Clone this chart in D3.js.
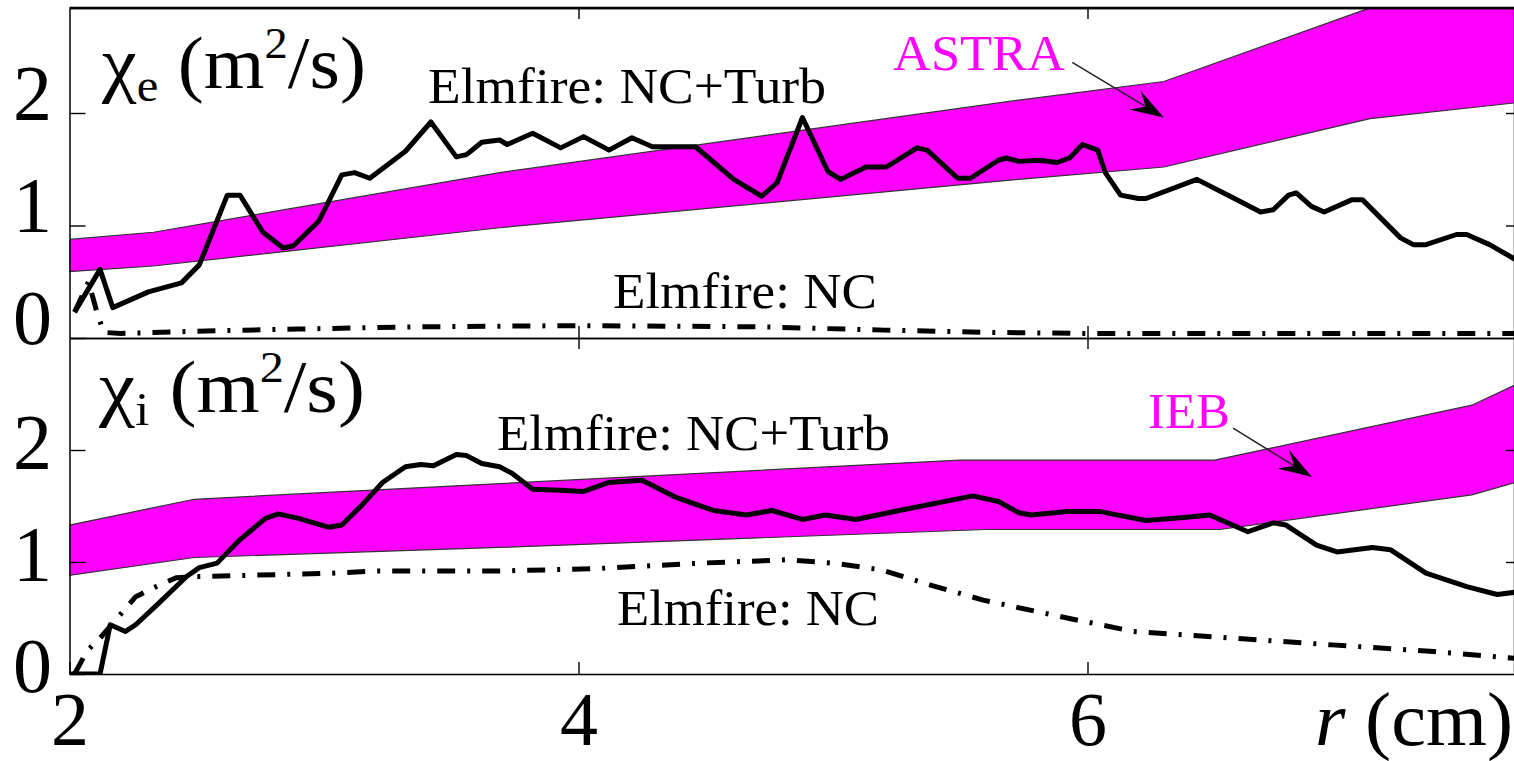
<!DOCTYPE html>
<html>
<head>
<meta charset="utf-8">
<script src="https://cdn.jsdelivr.net/npm/d3@7"></script>
<style>
  html, body { margin: 0; padding: 0; background: #fff; }
  svg { display: block; }
  text { font-family: "Liberation Serif", "Times New Roman", serif; fill: #000; }
</style>
</head>
<body>
<svg id="chart" width="1514" height="761"></svg>
<script>
'use strict';

// r (cm) axis
const xTicks = [2, 4, 6];
const yTicks = [0, 1, 2];

// electron panel: ASTRA band edges, [r, chi]
const astraUpper = [[2, 0.876], [2.33, 0.94], [3.69, 1.47], [5.73, 2.115], [6.3, 2.28], [7.08, 2.91], [7.68, 3.4]];
const astraLower = [[2, 0.59], [2.33, 0.64], [3.69, 0.98], [5.73, 1.41], [6.3, 1.52], [7.11, 1.95], [7.68, 2.09]];

const chiETurb = [
    [2.02, 0.23], [2.12, 0.61], [2.17, 0.27], [2.31, 0.41], [2.44, 0.49], [2.51, 0.65], [2.62, 1.27], [2.67, 1.27],
    [2.76, 0.94], [2.84, 0.80], [2.88, 0.82], [2.98, 1.04], [3.07, 1.45], [3.12, 1.47], [3.18, 1.42], [3.32, 1.66],
    [3.42, 1.92], [3.52, 1.61], [3.56, 1.63], [3.62, 1.74], [3.69, 1.76], [3.72, 1.72], [3.82, 1.82], [3.93, 1.69],
    [4.02, 1.79], [4.12, 1.67], [4.21, 1.78], [4.29, 1.70], [4.46, 1.70], [4.61, 1.41], [4.72, 1.26], [4.78, 1.38],
    [4.88, 1.96], [4.98, 1.48], [5.03, 1.41], [5.13, 1.52], [5.21, 1.52], [5.33, 1.69], [5.37, 1.67], [5.49, 1.42],
    [5.54, 1.42], [5.65, 1.58], [5.68, 1.60], [5.73, 1.57], [5.81, 1.58], [5.88, 1.56], [5.93, 1.60], [5.98, 1.72],
    [6.04, 1.67], [6.07, 1.47], [6.13, 1.27], [6.20, 1.24], [6.23, 1.24], [6.43, 1.41], [6.56, 1.26], [6.68, 1.12],
    [6.73, 1.14], [6.79, 1.27], [6.82, 1.29], [6.88, 1.17], [6.93, 1.12], [7.04, 1.23], [7.08, 1.23], [7.23, 0.89],
    [7.28, 0.83], [7.33, 0.83], [7.45, 0.92], [7.49, 0.92], [7.58, 0.83], [7.68, 0.70]
];
const chiENc = [
    [2.02, 0.23], [2.075, 0.5], [2.11, 0.21], [2.135, 0.05], [2.2, 0.04], [2.5, 0.06], [2.9, 0.08], [3.4, 0.10],
    [4.0, 0.11], [4.7, 0.10], [5.2, 0.07], [5.6, 0.05], [6.0, 0.04], [7.68, 0.04]
];

// ion panel: IEB band edges
const iebUpper = [[2, 1.33], [2.49, 1.56], [5.5, 1.91], [6.5, 1.91], [7.51, 2.40], [7.68, 2.58]];
const iebLower = [[2, 0.88], [2.49, 1.04], [3.69, 1.13], [5.6, 1.29], [6.52, 1.29], [7.51, 1.60], [7.68, 1.71]];

const chiITurb = [
    [2.0, 0.0], [2.12, 0.0], [2.16, 0.44], [2.22, 0.38], [2.26, 0.44], [2.35, 0.63], [2.46, 0.87], [2.51, 0.95],
    [2.58, 0.99], [2.67, 1.20], [2.77, 1.39], [2.82, 1.43], [2.90, 1.39], [3.02, 1.31], [3.07, 1.33], [3.15, 1.51],
    [3.23, 1.71], [3.32, 1.85], [3.38, 1.87], [3.43, 1.86], [3.52, 1.96], [3.56, 1.95], [3.62, 1.88], [3.69, 1.85],
    [3.74, 1.79], [3.82, 1.65], [3.93, 1.64], [4.02, 1.63], [4.12, 1.71], [4.25, 1.73], [4.38, 1.58], [4.53, 1.46],
    [4.66, 1.42], [4.76, 1.46], [4.88, 1.38], [4.97, 1.42], [5.09, 1.38], [5.26, 1.46], [5.55, 1.59], [5.65, 1.54],
    [5.73, 1.44], [5.78, 1.42], [5.92, 1.45], [6.05, 1.45], [6.23, 1.37], [6.39, 1.40], [6.48, 1.42], [6.57, 1.33],
    [6.63, 1.27], [6.73, 1.35], [6.78, 1.33], [6.90, 1.15], [6.98, 1.09], [7.12, 1.13], [7.19, 1.11], [7.33, 0.90],
    [7.49, 0.78], [7.61, 0.71], [7.68, 0.73]
];
const chiINc = [
    [2.02, 0.0], [2.07, 0.21], [2.12, 0.32], [2.26, 0.69], [2.34, 0.78], [2.42, 0.86], [2.51, 0.87], [3.03, 0.90],
    [3.2, 0.92], [3.69, 0.92], [4.06, 0.94], [4.48, 0.99], [4.82, 1.02], [5.0, 0.99], [5.19, 0.93], [5.39, 0.79],
    [5.59, 0.66], [5.92, 0.50], [6.18, 0.38], [6.57, 0.32], [6.96, 0.26], [7.36, 0.20], [7.68, 0.14]
];

const svg = d3.select('#chart');
const magenta = '#ff00ff';
const serif = '"Liberation Serif", "Times New Roman", serif';

const left = 69.5;
const right = 1514;
const x = d3.scaleLinear()
    .domain([2, 2 + (right - left) / 254.5])
    .range([left, right]);

// stretch a text element horizontally so its width matches the picture
function stretchText(textSel, width) {
    const box = textSel.node().getBBox();
    const k = width / box.width;
    textSel.attr('transform', `translate(${box.x},0) scale(${k},1) translate(${-box.x},0)`);
}

function drawArrow(g, x1, y1, x2, y2) {
    const dx = x2 - x1;
    const dy = y2 - y1;
    const len = Math.sqrt(dx * dx + dy * dy);
    const ux = dx / len;
    const uy = dy / len;
    const headLen = 34;
    const halfW = 11;
    const notch = 21;
    g.append('line')
        .attr('x1', x1).attr('y1', y1)
        .attr('x2', x2 - ux * notch).attr('y2', y2 - uy * notch)
        .attr('stroke', '#222')
        .attr('stroke-width', 1.5);
    const bx = x2 - ux * headLen;
    const by = y2 - uy * headLen;
    const pts = [
        [x2, y2],
        [bx - uy * halfW, by + ux * halfW],
        [x2 - ux * notch, y2 - uy * notch],
        [bx + uy * halfW, by - ux * halfW]
    ];
    g.append('polygon')
        .attr('points', pts.map(p => p.join(',')).join(' '))
        .attr('fill', '#000');
}

function Panel(opts) {
    this.top = opts.top;
    this.bottom = opts.bottom;
    this.y = d3.scaleLinear()
        .domain([0, opts.yMax])
        .range([opts.bottom, opts.top]);
    this.g = svg.append('g');
    this.id = opts.id;
    return this;
}

Panel.prototype.draw = function draw(upper, lower, turb, nc) {
    const self = this;
    const y = self.y;

    self.g.append('clipPath')
        .attr('id', 'clip-' + self.id)
        .append('rect')
        .attr('x', left)
        .attr('y', self.top)
        .attr('width', right - left)
        .attr('height', self.bottom - self.top);

    const plot = self.g.append('g')
        .attr('clip-path', `url(#clip-${self.id})`);

    const line = d3.line()
        .x(d => x(d[0]))
        .y(d => y(d[1]));

    // band: upper edge forward, lower edge back
    const bandPts = upper.concat(lower.slice().reverse());
    plot.append('path')
        .attr('d', line(bandPts) + 'Z')
        .attr('fill', magenta)
        .attr('stroke', '#333')
        .attr('stroke-width', 1.2);

    plot.append('path')
        .attr('d', line(nc))
        .attr('fill', 'none')
        .attr('stroke', '#000')
        .attr('stroke-width', 5)
        .attr('stroke-dasharray', '18,12,3,12');

    plot.append('path')
        .attr('d', line(turb))
        .attr('fill', 'none')
        .attr('stroke', '#000')
        .attr('stroke-width', 5)
        .attr('stroke-linejoin', 'round');
};

Panel.prototype.drawAxes = function drawAxes(labelDy, showX) {
    const self = this;
    const y = self.y;

    const yAxis = self.g.append('g')
        .attr('transform', `translate(${left},0)`)
        .call(d3.axisLeft(y).tickValues(yTicks).tickSize(-16).tickSizeOuter(0).tickPadding(18)
            .tickFormat(d3.format('d')));
    yAxis.selectAll('text')
        .attr('text-anchor', 'middle')
        .attr('x', -37)
        .attr('dy', labelDy)
        .style('font-family', serif)
        .style('font-size', '78px');

    self.g.append('g')
        .attr('transform', `translate(${right},0)`)
        .call(d3.axisRight(y).tickValues([1, 2]).tickSize(-8).tickSizeOuter(0).tickFormat(''));

    self.g.append('g')
        .attr('transform', `translate(0,${self.top})`)
        .call(d3.axisTop(x).tickValues(xTicks.slice(1)).tickSize(-11).tickSizeOuter(0).tickFormat(''));

    const xAxis = self.g.append('g')
        .attr('transform', `translate(0,${self.bottom})`)
        .call(d3.axisBottom(x).tickValues(showX ? xTicks : xTicks.slice(1)).tickSize(-12).tickSizeOuter(0)
            .tickFormat(showX ? d3.format('d') : ''));
    xAxis.selectAll('text')
        .attr('y', 71)
        .attr('dy', 0)
        .style('font-family', serif)
        .style('font-size', '76px');

    self.g.selectAll('.domain').attr('stroke', '#000').attr('stroke-width', 1.5);
    self.g.selectAll('.tick line').attr('stroke', '#000').attr('stroke-width', 1.4);
};

Panel.prototype.label = function label(sub, lx, ly, width) {
    const t = this.g.append('text')
        .attr('x', lx)
        .attr('y', ly)
        .style('font-size', '74px');
    t.append('tspan').text('χ');
    t.append('tspan').attr('dy', 13).style('font-size', '46px').text(sub);
    t.append('tspan').attr('dy', -13).text(' (m');
    t.append('tspan').attr('dy', -30).style('font-size', '44px').text('2');
    t.append('tspan').attr('dy', 30).text('/s)');
    stretchText(t, width);
};

function annotate(g, txt, tx, ty, width, size, color) {
    const t = g.append('text')
        .attr('x', tx)
        .attr('y', ty)
        .style('font-size', size + 'px')
        .style('fill', color || '#000')
        .text(txt);
    stretchText(t, width);
    return t;
}

// electron panel
const topPanel = new Panel({ id: 'e', top: 8, bottom: 338, yMax: (338 - 8) / 112.5 });
topPanel.draw(astraUpper, astraLower, chiETurb, chiENc);
topPanel.drawAxes(5, false);
topPanel.label('e', 102, 88, 265);

// ion panel
const botPanel = new Panel({ id: 'i', top: 338, bottom: 674, yMax: 3.0 });
botPanel.draw(iebUpper, iebLower, chiITurb, chiINc);
botPanel.drawAxes(17, true);
botPanel.label('i', 99, 412, 267);

// frame: heavy top edge
svg.append('line')
    .attr('x1', left).attr('x2', right)
    .attr('y1', 8).attr('y2', 8)
    .attr('stroke', '#000')
    .attr('stroke-width', 2.4);

// annotations
const notes = svg.append('g');
annotate(notes, 'Elmfire: NC+Turb', 428, 103, 398, 50);
annotate(notes, 'Elmfire: NC', 613, 308, 264, 50);
annotate(notes, 'ASTRA', 893, 70, 172, 50, magenta);
annotate(notes, 'Elmfire: NC+Turb', 497, 450, 393, 50);
annotate(notes, 'Elmfire: NC', 617, 625, 262, 50);
annotate(notes, 'IEB', 1148, 428, 82, 50, magenta);

const ty = topPanel.y;
const by = botPanel.y;
drawArrow(notes, x(5.94), ty(2.45), x(6.30), ty(1.96));
drawArrow(notes, x(6.572), by(2.196), x(6.882), by(1.759));

// x axis title
const xt = notes.append('text')
    .attr('x', 1315)
    .attr('y', 745)
    .style('font-size', '76px');
xt.append('tspan').style('font-style', 'italic').text('r');
xt.append('tspan').text(' (cm)');
stretchText(xt, 198);
</script>
</body>
</html>
